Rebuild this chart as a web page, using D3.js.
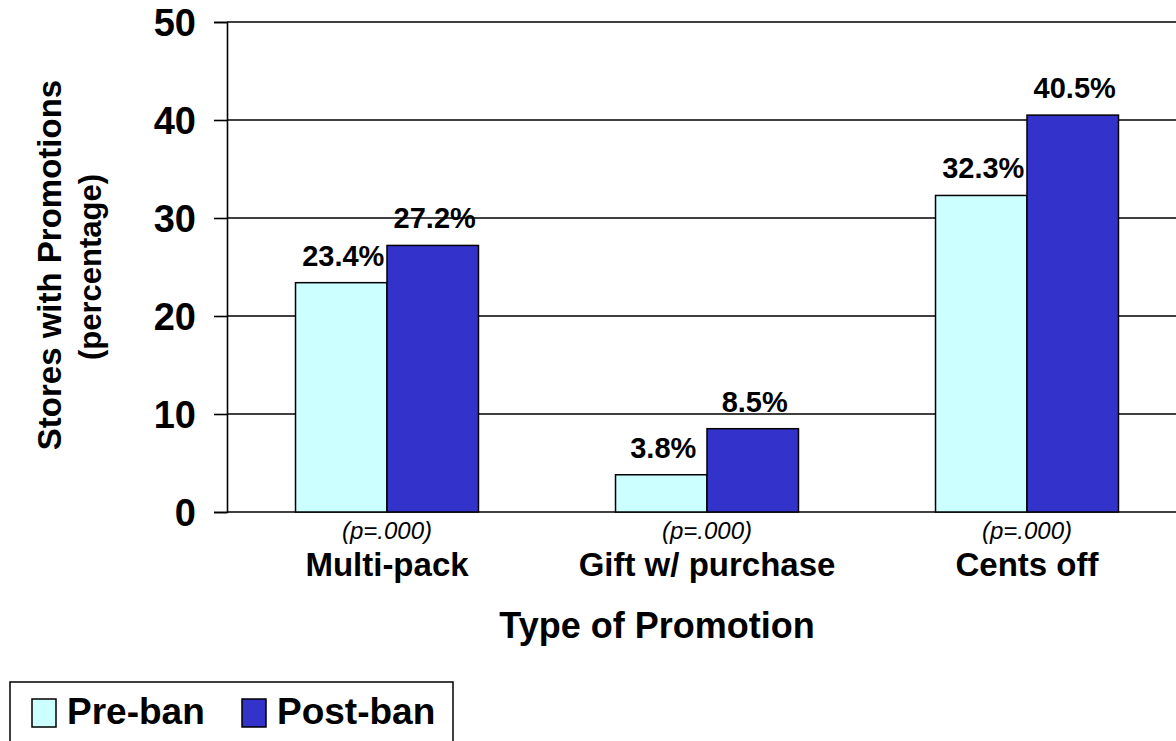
<!DOCTYPE html>
<html>
<head>
<meta charset="utf-8">
<script src="https://cdn.jsdelivr.net/npm/d3@7/dist/d3.min.js"></script>
<style>
  html, body { margin: 0; padding: 0; background: #fff; overflow: hidden; }
  svg { display: block; font-family: "Liberation Sans", Arial, Helvetica, sans-serif; }
</style>
</head>
<body>
<svg id="chart" width="1176" height="741"></svg>
<script>
const categories = ["Multi-pack", "Gift w/ purchase", "Cents off"];
const pLabels = ["(p=.000)", "(p=.000)", "(p=.000)"];
const series = ["Pre-ban", "Post-ban"];
const preBan = [23.4, 3.8, 32.3];
const postBan = [27.2, 8.5, 40.5];
const yTicks = [0, 10, 20, 30, 40, 50];
const colors = ["#CCFFFF", "#3333CC"];

const svg = d3.select("#chart");
const plotLeft = 227, plotRight = 1187, plotTop = 22, plotBottom = 512;

const x0 = d3.scaleBand().domain(categories).range([plotLeft, plotRight]).padding(0);
const x1 = d3.scaleBand().domain(series).range([0, x0.bandwidth()]).paddingInner(0).paddingOuter(0.749);
const y = d3.scaleLinear().domain([0, 50]).range([plotBottom, plotTop]);
const color = d3.scaleOrdinal().domain(series).range(colors);

const rows = categories.map((c, i) => ({ cat: c, p: pLabels[i], vals: [
  { s: series[0], v: preBan[i] }, { s: series[1], v: postBan[i] } ] }));

// gridlines + y axis
const yAxis = d3.axisLeft(y).tickValues(yTicks).tickSize(13).tickPadding(18).tickFormat(d3.format("d"));
const gy = svg.append("g").attr("transform", `translate(${plotLeft},0)`).call(yAxis);
gy.select(".domain").attr("stroke", "#000").attr("stroke-width", 1.6);
gy.selectAll(".tick line").attr("stroke", "#000").attr("stroke-width", 1.6);
gy.selectAll(".tick text").attr("font-size", 38).attr("font-weight", "bold").attr("fill", "#000").attr("dy", "0.36em");

svg.append("g").selectAll("line").data(yTicks).join("line")
  .attr("x1", plotLeft).attr("x2", plotRight)
  .attr("y1", d => y(d)).attr("y2", d => y(d))
  .attr("stroke", "#000").attr("stroke-width", 1.6);

// bars
const groups = svg.append("g").selectAll("g").data(rows).join("g")
  .attr("transform", d => `translate(${x0(d.cat)},0)`);

groups.selectAll("rect").data(d => d.vals).join("rect")
  .attr("x", d => x1(d.s)).attr("width", x1.bandwidth())
  .attr("y", d => y(d.v)).attr("height", d => y(0) - y(d.v))
  .attr("fill", d => color(d.s)).attr("stroke", "#000").attr("stroke-width", 1.5);

groups.selectAll("text.val").data(d => d.vals).join("text")
  .attr("class", "val")
  .attr("x", d => x1(d.s) + x1.bandwidth() / 2 + 2)
  .attr("y", d => y(d.v) - 17)
  .attr("text-anchor", "middle").attr("font-size", 29).attr("font-weight", "bold")
  .text(d => d3.format(".1f")(d.v) + "%");

// category labels
groups.append("text")
  .attr("x", x0.bandwidth() / 2).attr("y", 539)
  .attr("text-anchor", "middle").attr("font-size", 24).attr("font-style", "italic")
  .text(d => d.p);
groups.append("text")
  .attr("x", x0.bandwidth() / 2).attr("y", 576)
  .attr("text-anchor", "middle").attr("font-size", 33).attr("font-weight", "bold")
  .text(d => d.cat);

// axis titles
svg.append("text").attr("x", 657).attr("y", 638)
  .attr("text-anchor", "middle").attr("font-size", 36).attr("font-weight", "bold")
  .text("Type of Promotion");
svg.append("text").attr("transform", "translate(61,265) rotate(-90)")
  .attr("text-anchor", "middle").attr("font-size", 33).attr("font-weight", "bold")
  .text("Stores with Promotions");
svg.append("text").attr("transform", "translate(101,267) rotate(-90)")
  .attr("text-anchor", "middle").attr("font-size", 31).attr("font-weight", "bold")
  .text("(percentage)");

// legend
const lg = svg.append("g");
lg.append("rect").attr("x", 10).attr("y", 682).attr("width", 443).attr("height", 90)
  .attr("fill", "#fff").attr("stroke", "#000").attr("stroke-width", 1.5);
const legendX = [32, 242];
const li = lg.selectAll("g").data(series).join("g")
  .attr("transform", (d, i) => `translate(${legendX[i]},0)`);
li.append("rect").attr("x", 0).attr("y", 699).attr("width", 24).attr("height", 28)
  .attr("fill", d => color(d)).attr("stroke", "#000").attr("stroke-width", 1.5);
li.append("text").attr("x", 35).attr("y", 724)
  .attr("font-size", 37).attr("font-weight", "bold").text(d => d);
</script>
</body>
</html>
